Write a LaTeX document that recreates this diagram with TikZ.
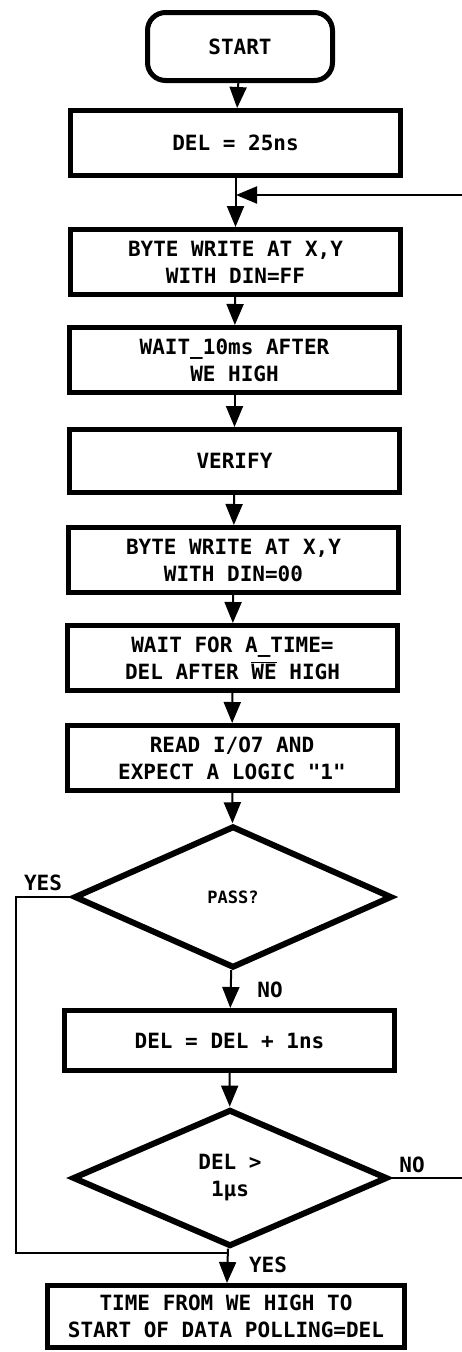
\documentclass[tikz,border=0pt]{standalone}
\usepackage{fontspec}
\setmonofont{DejaVu Sans Mono}
\usetikzlibrary{shapes.geometric,arrows.meta}
\newcommand\diagfont{\ttfamily\bfseries\fontsize{21}{27}\selectfont}
\newcommand\smallfont{\ttfamily\bfseries\fontsize{17}{22}\selectfont}
\begin{document}
\begin{tikzpicture}[x=1pt,y=-1pt,
  box/.style={draw,line width=5pt,rectangle,minimum width=330pt,minimum height=65pt,inner sep=0pt,align=center,font=\diagfont},
  term/.style={draw,line width=5pt,rectangle,rounded corners=18pt,minimum width=185pt,minimum height=68pt,inner sep=0pt,font=\diagfont},
  dec/.style={draw,line width=6pt,diamond,inner sep=0pt,align=center,font=\diagfont},
  lbl/.style={inner sep=0pt,font=\diagfont},
  conn/.style={line width=2pt},
  arr/.style={line width=2pt,-{Triangle[length=21pt,width=17pt]}}]
\fill[white] (0,0) rectangle (462,1352);
\useasboundingbox (0,0) rectangle (462,1352);

\node[term] (start) at (240,46.5) {START};
\node[box] (del) at (235.5,143) {DEL = 25ns};
\node[box] (bw1) at (235.5,262) {BYTE WRITE AT X,Y\\WITH DIN=FF};
\node[box] (wait) at (234.5,360) {WAIT\_10ms AFTER\\WE HIGH};
\node[box,minimum height=63pt] (verify) at (234.5,461) {VERIFY};
\node[box] (bw2) at (233.5,560) {BYTE WRITE AT X,Y\\WITH DIN=00};
\node[box] (waitfor) at (232.5,658) {WAIT FOR A\_TIME=\\DEL AFTER $\overline{\mbox{WE}}$ HIGH};
\node[box] (read) at (232,758) {READ I/O7 AND\\EXPECT A LOGIC "1"};
\node[dec,minimum width=318pt,minimum height=142pt,font=\smallfont] (pass) at (233,897) {PASS?};
\node[box,minimum height=60pt] (inc) at (229.5,1040.5) {DEL = DEL + 1ns};
\node[dec,minimum width=315pt,minimum height=137pt] (lim) at (230,1178) {DEL >\\1μs};
\node[box,minimum width=357pt,minimum height=62pt] (final) at (226,1316.5) {TIME FROM WE HIGH TO\\START OF DATA POLLING=DEL};

\node[lbl] (yes1) at (43,883) {YES};
\node[lbl] (no1) at (270,990) {NO};
\node[lbl] (no2) at (412,1165) {NO};
\node[lbl] (yes2) at (268,1265) {YES};

\coordinate (rt) at (462,195);
\coordinate (merge) at (236,195);
\coordinate (rb) at (462,1178);
\coordinate (lc) at (16,1253);
\coordinate (join) at (228,1253);

\draw[arr] (start) -- (del);
\draw[arr] (del) -- (bw1);
\draw[arr] (rt) -- (merge);
\draw[arr] (bw1) -- (wait);
\draw[arr] (wait) -- (verify);
\draw[arr] (verify) -- (bw2);
\draw[arr] (bw2) -- (waitfor);
\draw[arr] (waitfor) -- (read);
\draw[arr] (read) -- (pass);
\draw[arr] (pass) -- (inc);
\draw[arr] (inc) -- (lim);
\draw[arr] (lim) -- (final);
\draw[conn] (pass.west) -| (lc) -- (join);
\draw[conn] (lim.east) -- (rb);
\end{tikzpicture}
\end{document}
